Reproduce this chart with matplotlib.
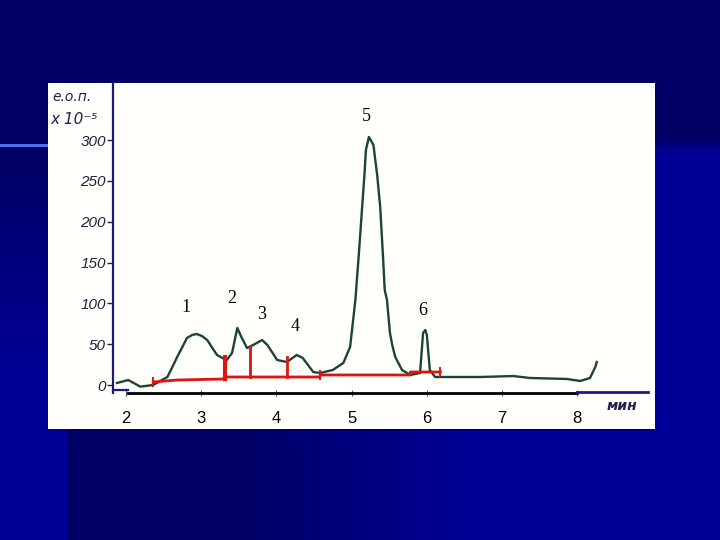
import numpy as np
import matplotlib
matplotlib.use("Agg")
import matplotlib.pyplot as plt
from matplotlib.patches import Rectangle

# ---- data ----
time_min = [1.88, 2.03, 2.19, 2.36, 2.55, 2.61, 2.68, 2.75, 2.81, 2.88, 2.94, 3.01,
            3.08, 3.14, 3.21, 3.28, 3.34, 3.41, 3.48, 3.54, 3.61, 3.69, 3.81, 3.88,
            4.01, 4.14, 4.27, 4.35, 4.49, 4.58, 4.75, 4.89, 4.98, 5.05, 5.07, 5.10,
            5.14, 5.17, 5.19, 5.23, 5.29, 5.34, 5.38, 5.42, 5.44, 5.47, 5.51, 5.54,
            5.58, 5.67, 5.78, 5.91, 5.95, 5.98, 6.00, 6.04, 6.11, 6.27, 6.71, 7.15,
            7.37, 7.86, 8.04, 8.17, 8.24, 8.26]
signal = [2.5, 6.1, -2.0, 0.0, 9.8, 20.8, 34.3, 46.6, 57.6, 61.3, 62.5, 60.0,
          55.1, 46.6, 36.8, 33.1, 30.6, 39.2, 69.9, 57.6, 45.3, 49.0, 55.1, 49.0,
          30.6, 28.2, 36.8, 33.1, 15.9, 14.7, 18.4, 27.0, 46.6, 104.2, 128.7, 165.4,
          218.1, 257.0, 288.0, 303.9, 294.0, 257.0, 218.1, 153.0, 116.4, 104.2, 63.7, 49.0,
          34.3, 18.4, 12.3, 14.7, 63.7, 67.4, 61.3, 18.4, 9.8, 9.8, 9.8, 11.0,
          8.6, 7.4, 4.9, 8.6, 22.1, 28.2]

baseline_x = [2.36, 2.68, 3.32, 3.32, 4.58, 4.58, 5.78, 5.78, 6.18]
baseline_y = [3.7, 6.1, 7.4, 9.8, 9.8, 12.3, 12.3, 15.9, 15.9]

drop_x = [3.32, 3.65, 4.14]
drop_bottom = [7.4, 9.8, 9.8]
drop_top = [34.3, 46.6, 34.3]
drop_width = [3.0, 2.0, 2.0]

tick_marks_x = [2.36, 4.58, 6.18]
tick_marks_y = [3.7, 12.3, 15.9]

peak_labels = ["1", "2", "3", "4", "5", "6"]
peak_label_x = [2.80, 3.41, 3.80, 4.25, 5.19, 5.94]
peak_label_y = [94.4, 105.4, 85.8, 71.1, 328.4, 90.7]

x_ticks = [2, 3, 4, 5, 6, 7, 8]
y_ticks = [0, 50, 100, 150, 200, 250, 300]

W, H = 720, 540
fig = plt.figure(figsize=(7.2, 5.4), dpi=100)

# ---- slide background ----
navy = np.array([0, 0, 100]) / 255.0
blue = np.array([0, 0, 152]) / 255.0
yy, xx = np.mgrid[0:H, 0:W]
bg = np.tile(navy, (H, W, 1))
t_left = np.clip((yy - 150) / 230.0, 0, 1)
mask_left = (xx < 68)
bg[mask_left] = (navy * (1 - t_left[mask_left, None]) + blue * t_left[mask_left, None])
t_right = np.clip((yy - 138) / 14.0, 0, 1)
mask_right = (xx >= 655)
bg[mask_right] = (navy * (1 - t_right[mask_right, None]) + blue * t_right[mask_right, None])
mask_bot = (yy >= 430) & (xx >= 68)
t_bot = np.clip((xx - 230) / 250.0, 0, 1)
bg[mask_bot] = (navy * (1 - t_bot[mask_bot, None]) + blue * t_bot[mask_bot, None])
bgax = fig.add_axes([0, 0, 1, 1], zorder=-10)
bgax.imshow(bg, aspect="auto", extent=[0, W, H, 0], interpolation="bilinear")
bgax.set_xlim(0, W)
bgax.set_ylim(H, 0)
bgax.axis("off")
bgax.plot([0, 48], [145, 145], color="#4a6ee8", lw=2.2)

# white panel
fig.patches.append(Rectangle((48 / W, 1 - 429 / H), 607 / W, 346 / H,
                             transform=fig.transFigure, facecolor="#fffffb",
                             edgecolor="none", zorder=-5))

# ---- chart axes ----
x0, x1 = 113, 648
ytop, ybot = 83, 393
ax = fig.add_axes([x0 / W, 1 - ybot / H, (x1 - x0) / W, (ybot - ytop) / H])
ax.set_facecolor("none")
ax.set_xlim(1.827, 8.941)
ax.set_ylim(-9.8, 370)

ax.plot(time_min, signal, color="#1c4435", lw=1.7, zorder=3)

ax.plot(baseline_x, baseline_y, color="#e01212", lw=2.0, zorder=4)
for dx, db, dt, w in zip(drop_x, drop_bottom, drop_top, drop_width):
    ax.plot([dx, dx], [db, dt], color="#e01212", lw=w, zorder=4)
for tx, ty in zip(tick_marks_x, tick_marks_y):
    ax.plot([tx, tx], [ty - 5, ty + 5], color="#e01212", lw=1.4, zorder=4)

for lab, lx, ly in zip(peak_labels, peak_label_x, peak_label_y):
    ax.text(lx, ly, lab, ha="center", va="center", fontsize=13,
            family="Liberation Serif", color="black")

for s in ["top", "right", "bottom"]:
    ax.spines[s].set_visible(False)
ax.spines["left"].set_color("#1a1a70")
ax.spines["left"].set_linewidth(1.6)

ax.set_yticks(y_ticks)
ax.set_yticklabels([str(v) for v in y_ticks], fontsize=11, style="italic",
                   family="Liberation Sans", color="#202040")
ax.tick_params(axis="y", direction="out", length=4, width=1.0, color="#202040", pad=1)

ax.set_xticks(x_ticks)
ax.set_xticklabels([str(v) for v in x_ticks], fontsize=12,
                   family="Liberation Sans", color="black")
ax.tick_params(axis="x", direction="inout", length=4, width=0.8, color="#555555", pad=11)

# x axis lines
ax.plot([1.827, 2.03], [-6.1, -6.1], color="#1a1a90", lw=1.6, clip_on=False)
ax.plot([2.03, 8.0], [-9.8, -9.8], color="black", lw=2.0, clip_on=False)
ax.plot([8.0, 8.941], [-8.6, -8.6], color="#1a1a90", lw=2.0, clip_on=False)

# axis labels
fig.text(72 / W, 1 - 97 / H, "е.о.п.", ha="center", va="center", fontsize=10,
         style="italic", color="#202050", family="DejaVu Sans")
fig.text(74 / W, 1 - 120 / H, "x 10⁻⁵", ha="center", va="center", fontsize=11,
         style="italic", color="#202050", family="DejaVu Sans")
fig.text(622 / W, 1 - 406 / H, "мин", ha="center", va="center", fontsize=10,
         style="italic", weight="bold", color="#202050", family="DejaVu Sans")

fig.savefig("out.png", dpi=100)
